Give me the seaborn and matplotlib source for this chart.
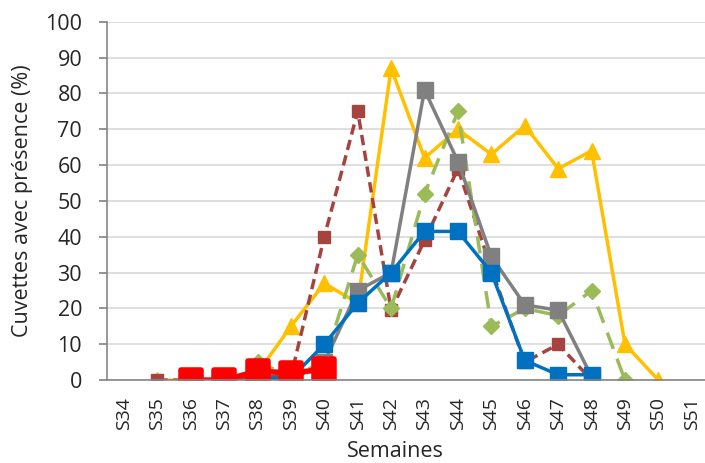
import numpy as np
import pandas as pd
import matplotlib.pyplot as plt
import seaborn as sns
from matplotlib.markers import MarkerStyle

weeks = ["S%d" % w for w in range(34, 52)]
nan = np.nan

# values per week, S34..S51
yellow = [nan, 0, 0, 0, 2, 15, 27, 21.5, 87, 62, 70, 63, 71, 59, 64, 10, 0, nan]
brown = [nan, 0, 0, 0, 1, 1, 40, 75, 19.5, 39, 59, 31, 5, 10, 0, nan, nan, nan]
green = [nan, nan, nan, nan, 5, 1, 5, 35, 20, 52, 75, 15, 20, 18, 25, 0, nan, nan]
grey = [nan, nan, nan, nan, 0, 0, 5, 25, 30, 81, 61, 34.5, 21, 19.5, 1, nan, nan, nan]
blue = [nan, nan, nan, nan, 0.5, 0.5, 10, 21.5, 30, 41.5, 41.5, 30, 5.5, 1.5, 1.5, nan, nan, nan]
red = [nan, nan, 0, 0, 2.5, 2, 3, nan, nan, nan, nan, nan, nan, nan, nan, nan, nan, nan]

sns.set_theme(style="white")
plt.rcParams["font.family"] = ["Open Sans", "DejaVu Sans"]

fig = plt.figure(figsize=(7.05, 4.63), dpi=100)
ax = fig.add_axes([0.152, 0.179, 0.853, 0.774])

pos = np.arange(len(weeks))

round_sq = MarkerStyle("s", joinstyle="round")
series = [
    (yellow, "#FFC000", "-", "^", 12, 2.5, 1),
    (brown, "#A5443F", (0, (3, 1.6)), "s", 9, 2.5, 1),
    (green, "#9BBB59", (0, (5, 3)), "D", 8, 2.5, 1),
    (grey, "#808080", "-", "s", 11, 2.5, 1),
    (blue, "#0070C0", "-", "s", 11, 2.5, 1),
    (red, "#FF0000", "-", round_sq, 15, 4, 4),
]

for vals, col, ls, mk, ms, lw, mew in series:
    d = pd.DataFrame({"x": pos, "y": vals}).dropna()
    sns.lineplot(data=d, x="x", y="y", ax=ax, color=col, linestyle=ls,
                 linewidth=lw, marker=mk, markersize=ms, markeredgewidth=mew,
                 markeredgecolor=col, markerfacecolor=col, sort=False)

ax.set_xlim(-0.5, len(weeks) - 0.5)
ax.set_ylim(0, 100)
ax.set_yticks(range(0, 101, 10))
ax.set_xticks(pos)
ax.set_xticklabels(weeks, rotation=90, fontsize=14)
ax.set_xticks(np.arange(-0.5, len(weeks), 1), minor=True)
ax.tick_params(axis="x", which="major", length=0, pad=12)
ax.tick_params(axis="x", which="minor", length=6, color="#868686", direction="out")
ax.tick_params(axis="y", labelsize=15.5, length=6, color="#868686", left=True,
               direction="out", pad=12)
ax.yaxis.grid(True, color="#D9D9D9", linewidth=1.2)
ax.set_axisbelow(True)
for s in ["top", "right"]:
    ax.spines[s].set_visible(False)
for s in ["left", "bottom"]:
    ax.spines[s].set_color("#868686")
    ax.spines[s].set_linewidth(1.2)

ax.set_xlabel("Semaines", fontsize=15.5, va="center")
ax.xaxis.set_label_coords(0.48, -0.2)
ax.set_ylabel("Cuvettes avec présence (%)", fontsize=15.5, va="center")
ax.yaxis.set_label_coords(-0.14, 0.5)

fig.savefig("out.png", dpi=100)
